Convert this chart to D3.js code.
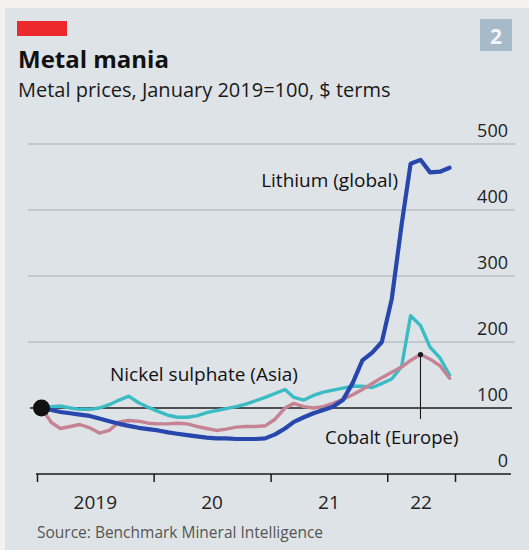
<!DOCTYPE html>
<html>
<head>
<meta charset="utf-8">
<script src="https://cdn.jsdelivr.net/npm/d3@7"></script>
<style>
  html, body { margin: 0; padding: 0; background: #f3f2f0; }
  svg { display: block; }
  text { font-family: "Open Sans", "DejaVu Sans", sans-serif; }
</style>
</head>
<body>
<svg id="chart" width="529" height="550"></svg>
<script>
// Monthly index values, January 2019 = 100, mid-month readings
const months = d3.range(0, 43).map(i => new Date(2019, i, 15));

const lithium = [
  100, 97, 94, 92, 90, 88, 84, 80, 76, 73, 70, 68,
  66, 63, 61, 59, 57, 55, 54, 54, 53, 53, 53, 54,
  60, 69, 79, 86, 92, 97, 102, 112, 138, 172, 184, 200,
  265, 378, 470, 476, 457, 458, 464
];
const nickel = [
  100, 102, 103, 100, 98, 98, 100, 105, 112, 118, 108, 101,
  95, 89, 86, 86, 88, 93, 96, 99, 102, 106, 111, 116,
  122, 128, 116, 112, 119, 124, 127, 130, 133, 133, 131, 137,
  144, 163, 240, 225, 192, 176, 150
];
const cobalt = [
  100, 78, 69, 72, 75, 70, 62, 66, 79, 81, 80, 77,
  76, 76, 77, 76, 72, 69, 66, 68, 71, 72, 72, 73,
  83, 100, 107, 102, 100, 102, 107, 113, 120, 128, 137, 146,
  154, 162, 172, 181, 174, 164, 145
];

const yTicks = [0, 100, 200, 300, 400, 500];
const yearTicks = [new Date(2019, 0, 1), new Date(2020, 0, 1), new Date(2021, 0, 1), new Date(2022, 0, 1)];
const yearLabels = ["2019", "20", "21", "22"];
const axisEnd = new Date(2022, 7, 1);

const seriesList = [
  { name: "Nickel sulphate", values: nickel, color: "#3bbcc4", width: 3.4 },
  { name: "Cobalt", values: cobalt, color: "#c58393", width: 3.4 },
  { name: "Lithium", values: lithium, color: "#2747ad", width: 4.2 }
];

const svg = d3.select("#chart");
const W = 529, H = 550;

// panel background
svg.append("rect").attr("x", 5).attr("y", 8).attr("width", W - 5).attr("height", H - 8)
  .attr("fill", "#dee3e7");

// red tag and panel number
svg.append("rect").attr("x", 17).attr("y", 21).attr("width", 50).attr("height", 15).attr("fill", "#ec2a2e");
svg.append("rect").attr("x", 480).attr("y", 19).attr("width", 32).attr("height", 32).attr("fill", "#a6bac7");
svg.append("text").attr("x", 496).attr("y", 44).attr("text-anchor", "middle")
  .attr("font-size", 21).attr("font-weight", 700).attr("fill", "#f4f6f8").text("2");

// titles
svg.append("text").attr("x", 18).attr("y", 68).attr("font-size", 24).attr("font-weight", 700)
  .attr("fill", "#111").text("Metal mania");
svg.append("text").attr("x", 18).attr("y", 97).attr("font-size", 20).attr("fill", "#1a1a1a")
  .text("Metal prices, January 2019=100, $ terms");

const x = d3.scaleTime().domain([new Date(2019, 0, 1), axisEnd]).range([37, 455]);
const y = d3.scaleLinear().domain([0, 500]).range([474, 144]);

// horizontal gridlines
const grid = svg.append("g");
grid.selectAll("line").data(yTicks.filter(v => v >= 200)).join("line")
  .attr("x1", 28).attr("x2", 515)
  .attr("y1", d => y(d)).attr("y2", d => y(d))
  .attr("stroke", "#a7adb2").attr("stroke-width", 1);

// index base line at 100
svg.append("line").attr("x1", 30).attr("x2", 512)
  .attr("y1", y(100)).attr("y2", y(100))
  .attr("stroke", "#1e1e1e").attr("stroke-width", 1.3);

// y labels on the right, sitting on their gridlines
svg.append("g").selectAll("text").data(yTicks).join("text")
  .attr("x", 508).attr("y", d => y(d) - 7)
  .attr("text-anchor", "end").attr("font-size", 18).attr("fill", "#222")
  .text(d => d);

// x axis with year ticks
const xAxis = d3.axisBottom(x)
  .tickValues(yearTicks.concat([axisEnd]))
  .tickSize(8)
  .tickFormat("");
const gx = svg.append("g").attr("transform", `translate(0,${y(0)})`).call(xAxis);
gx.select(".domain").remove();
gx.selectAll(".tick line").attr("stroke", "#1a1a1a").attr("stroke-width", 1.5);
svg.append("line").attr("x1", 36).attr("x2", 511)
  .attr("y1", y(0)).attr("y2", y(0))
  .attr("stroke", "#1a1a1a").attr("stroke-width", 1.6);

// year labels centred between ticks
const bounds = yearTicks.concat([axisEnd]);
svg.append("g").selectAll("text").data(yearLabels).join("text")
  .attr("x", (d, i) => (x(bounds[i]) + x(bounds[i + 1])) / 2)
  .attr("y", 509)
  .attr("text-anchor", "middle").attr("font-size", 19).attr("fill", "#222")
  .text(d => d);

// series lines
const line = d3.line()
  .x((d, i) => x(months[i]))
  .y(d => y(d))
  .curve(d3.curveLinear);

svg.append("g").selectAll("path").data(seriesList).join("path")
  .attr("d", s => line(s.values))
  .attr("fill", "none")
  .attr("stroke", s => s.color)
  .attr("stroke-width", s => s.width)
  .attr("stroke-linejoin", "round")
  .attr("stroke-linecap", "round");

// start marker
svg.append("circle").attr("cx", x(months[0])).attr("cy", y(100)).attr("r", 8.5).attr("fill", "#111");

// cobalt peak leader
const peakIdx = cobalt.indexOf(d3.max(cobalt));
svg.append("line")
  .attr("x1", x(months[peakIdx])).attr("x2", x(months[peakIdx]))
  .attr("y1", y(cobalt[peakIdx])).attr("y2", 419)
  .attr("stroke", "#1a1a1a").attr("stroke-width", 1.1);
svg.append("circle").attr("cx", x(months[peakIdx])).attr("cy", y(cobalt[peakIdx])).attr("r", 2.6).attr("fill", "#1a1a1a");

// series labels
svg.append("text").attr("x", 398).attr("y", 187).attr("text-anchor", "end")
  .attr("font-size", 19).attr("fill", "#111").text("Lithium (global)");
svg.append("text").attr("x", 110).attr("y", 381)
  .attr("font-size", 19).attr("fill", "#111").text("Nickel sulphate (Asia)");
svg.append("text").attr("x", 325).attr("y", 444)
  .attr("font-size", 18.5).attr("fill", "#111").text("Cobalt (Europe)");

// source
svg.append("text").attr("x", 37).attr("y", 538).attr("font-size", 15.5).attr("fill", "#555")
  .text("Source: Benchmark Mineral Intelligence");
</script>
</body>
</html>
